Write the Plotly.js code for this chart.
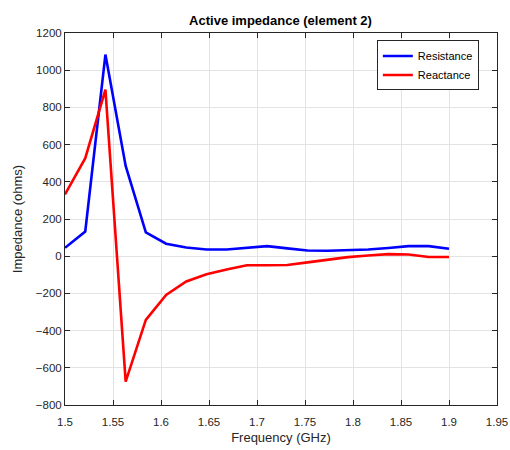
<!DOCTYPE html>
<html>
<head>
<meta charset="utf-8">
<script src="https://cdn.plot.ly/plotly-3.0.1.min.js"></script>
<style>html,body{margin:0;padding:0;background:#fff;}#chart{width:510px;height:450px;}</style>
</head>
<body>
<div id="chart"></div>
<script>
// Frequencies: 20 points from 1.5 to 1.9 GHz
var freq = [1.5, 1.5211, 1.5421, 1.5632, 1.5842, 1.6053, 1.6263, 1.6474, 1.6684, 1.6895,
            1.7105, 1.7316, 1.7526, 1.7737, 1.7947, 1.8158, 1.8368, 1.8579, 1.8789, 1.9];
var resistance = [45, 133, 1084, 485, 128, 67, 47, 36, 36, 45,
                  54, 42, 31, 29, 31, 36, 44, 54, 54, 40];
var reactance = [332, 527, 896, -674, -342, -208, -136, -97, -71, -49,
                 -49, -47, -33, -18, -5, 4, 11, 9, -4, -4];
var seriesNames = ["Resistance", "Reactance"];
var xTicks = [1.5, 1.55, 1.6, 1.65, 1.7, 1.75, 1.8, 1.85, 1.9, 1.95];
var xTickText = ["1.5", "1.55", "1.6", "1.65", "1.7", "1.75", "1.8", "1.85", "1.9", "1.95"];
var yTicks = [-800, -600, -400, -200, 0, 200, 400, 600, 800, 1000, 1200];

var font = "Liberation Sans, Arial, Helvetica, sans-serif";
var traces = [
  {x: freq, y: resistance, name: seriesNames[0], type: "scatter", mode: "lines",
   line: {color: "#0000ff", width: 2.6}},
  {x: freq, y: reactance, name: seriesNames[1], type: "scatter", mode: "lines",
   line: {color: "#ff0000", width: 2.6}}
];
var axisCommon = {
  showline: true, linecolor: "#262626", linewidth: 1, mirror: "ticks",
  ticks: "inside", ticklen: 5, tickcolor: "#262626", tickwidth: 1,
  showgrid: true, gridcolor: "#e3e3e3", gridwidth: 1, zeroline: false,
  tickfont: {family: font, size: 11.5, color: "#262626"}
};
var layout = {
  width: 510, height: 450,
  margin: {l: 65, r: 13, t: 33, b: 45},
  paper_bgcolor: "#ffffff", plot_bgcolor: "#ffffff",
  title: {text: "<b>Active impedance (element 2)</b>", x: 0.55, xanchor: "center", y: 0.955, yanchor: "middle",
          font: {family: font, size: 13, color: "#000"}},
  xaxis: Object.assign({}, axisCommon, {
    range: [1.5, 1.95], tickvals: xTicks, ticktext: xTickText, ticklabelstandoff: 6,
    title: {text: "Frequency (GHz)", standoff: 6, font: {family: font, size: 13, color: "#262626"}}
  }),
  yaxis: Object.assign({}, axisCommon, {
    range: [-800, 1200], tickvals: yTicks,
    title: {text: "Impedance (ohms)", standoff: 10, font: {family: font, size: 13, color: "#262626"}}
  }),
  showlegend: true,
  legend: {x: 0.958, y: 0.98, xanchor: "right", yanchor: "top",
           bgcolor: "#ffffff", bordercolor: "#262626", borderwidth: 1,
           font: {family: font, size: 11, color: "#000"}, tracegroupgap: 0}
};
Plotly.newPlot("chart", traces, layout, {displayModeBar: false, staticPlot: true});
</script>
</body>
</html>
